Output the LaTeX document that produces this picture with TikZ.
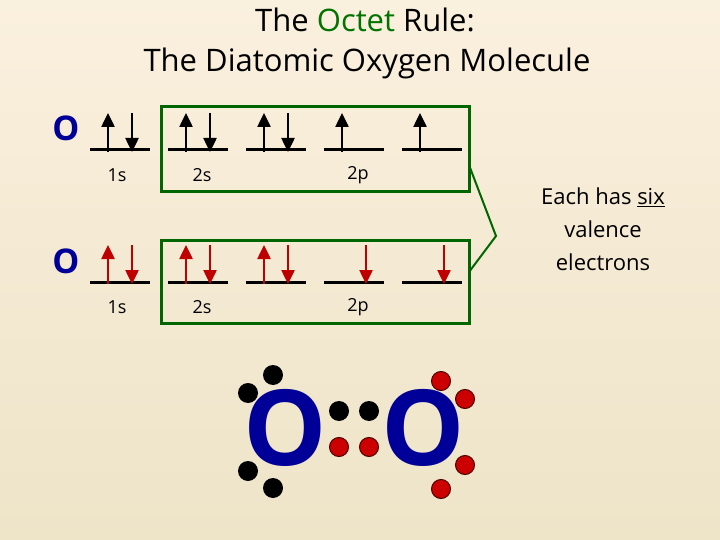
\documentclass[tikz,border=0pt]{standalone}
\usepackage{fontspec}
\setmainfont{Open Sans}
\usetikzlibrary{arrows.meta}
\begin{document}
\begin{tikzpicture}[x=1pt,y=-1pt,
  lvl/.style={line width=3pt,black},
  up/.style={-{Triangle[length=14pt,width=13pt]},line width=2.5pt},
  dn/.style={-{Triangle[length=14pt,width=13pt]},line width=2.5pt},
  box/.style={draw=green!40!black,line width=3pt},
  atom/.style={text=blue!60!black,font=\bfseries\fontsize{34}{34}\selectfont},
  big/.style={text=blue!60!black,font=\bfseries\fontsize{105}{105}\selectfont},
  lab/.style={font=\fontsize{18}{18}\selectfont},
  bd/.style={circle,fill=black,inner sep=0pt,minimum size=20pt},
  rd/.style={circle,fill=red!80!black,draw=black!70!red,line width=1pt,inner sep=0pt,minimum size=19pt}]
\shade[top color={rgb,255:red,250;green,240;blue,222},bottom color={rgb,255:red,238;green,228;blue,200}] (0,0) rectangle (720,540);
\useasboundingbox (0,0) rectangle (720,540);
\node[font=\fontsize{31}{31}\selectfont] (t1) at (365,20) {The \textcolor{green!45!black}{Octet} Rule:};
\node[font=\fontsize{31}{31}\selectfont] (t2) at (367,63) {The Diatomic Oxygen Molecule};
\draw[box] (161,107) rectangle (469,192);
\draw[box] (161,240) rectangle (469,323);
\draw[green!40!black,line width=2pt] (469,165) -- (496,236) -- (469,272);
\foreach \yy in {150,282}{
  \foreach \x in {90,168,246,324,402}{
    \draw[lvl] (\x,\yy) -- ++(60,0);
  }
}
\node[atom] (o1) at (66,128) {O};
\node[atom] (o2) at (66,261) {O};
\foreach \x in {108,186,264,342,420}{\draw[up] (\x,152) -- (\x,113);}
\foreach \x in {132,210,288}{\draw[dn] (\x,113) -- (\x,152);}
\begin{scope}[red!75!black]
\foreach \x in {108,186,264}{\draw[up] (\x,284) -- (\x,245);}
\foreach \x in {132,210,288,366,444}{\draw[dn] (\x,245) -- (\x,284);}
\end{scope}
\foreach \yy in {175,307}{
  \node[lab] at (117,\yy) {1s};
  \node[lab] at (202,\yy) {2s};
  \node[lab] at (358,\yy) {2p};
}
\node[font=\fontsize{22}{33}\selectfont,align=center] (ex) at (603,229) {Each has \underline{six}\\valence\\electrons};
\node[big] (L) at (285,428) {O};
\node[big] (R) at (423,428) {O};
\foreach \p in {(273,375),(248,393),(248,471),(273,488),(339,411),(369,411)} \node[bd] at \p {};
\foreach \p in {(339,447),(369,447),(441,381),(465,399),(465,465),(441,489)} \node[rd] at \p {};
\end{tikzpicture}
\end{document}
